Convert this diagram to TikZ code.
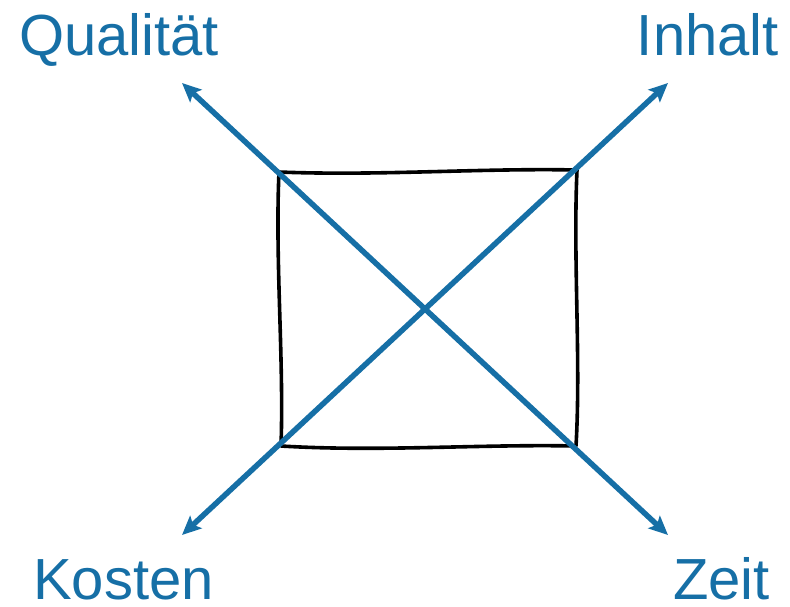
\documentclass[tikz,border=0pt]{standalone}
\usepackage{fontspec}
\setmainfont{Liberation Sans}
\usetikzlibrary{arrows.meta}

\definecolor{achsblau}{RGB}{22,111,166}

\tikzset{
  achse/.style={achsblau, line width=5.5pt,
    {Stealth[length=19pt,width=17pt,inset=4pt]}-{Stealth[length=19pt,width=17pt,inset=4pt]}},
  beschriftung/.style={achsblau, inner sep=0pt, font=\fontsize{58}{60}\selectfont}
}

\begin{document}
\begin{tikzpicture}[x=1pt, y=-1pt]
  \useasboundingbox (0,0) rectangle (790,606);

  % Hand gezeichnetes Quadrat
  \draw [black, line width=3.6pt, line join=round]
    (279,172) .. controls (380,176) and (480,168) .. (577,170)
    .. controls (573,260) and (581,360) .. (576,446)
    .. controls (480,444) and (380,452) .. (281,446)
    .. controls (284,360) and (275,260) .. (279,172) -- cycle;

  % Endpunkte der Achsen
  \coordinate (qualitaet) at (182,83);
  \coordinate (zeit)      at (668,535);
  \coordinate (inhalt)    at (668,83);
  \coordinate (kosten)    at (182,535);

  % Achsen
  \draw [achse] (qualitaet) -- (zeit);
  \draw [achse] (kosten) -- (inhalt);

  % Beschriftungen
  \node [beschriftung, anchor=base west] (lqualitaet) at (19,55) {Qualität};
  \node [beschriftung, anchor=base east] (linhalt)    at (779,55) {Inhalt};
  \node [beschriftung, anchor=base west] (lkosten)    at (33,599) {Kosten};
  \node [beschriftung, anchor=base east] (lzeit)      at (770,599) {Zeit};
\end{tikzpicture}
\end{document}
